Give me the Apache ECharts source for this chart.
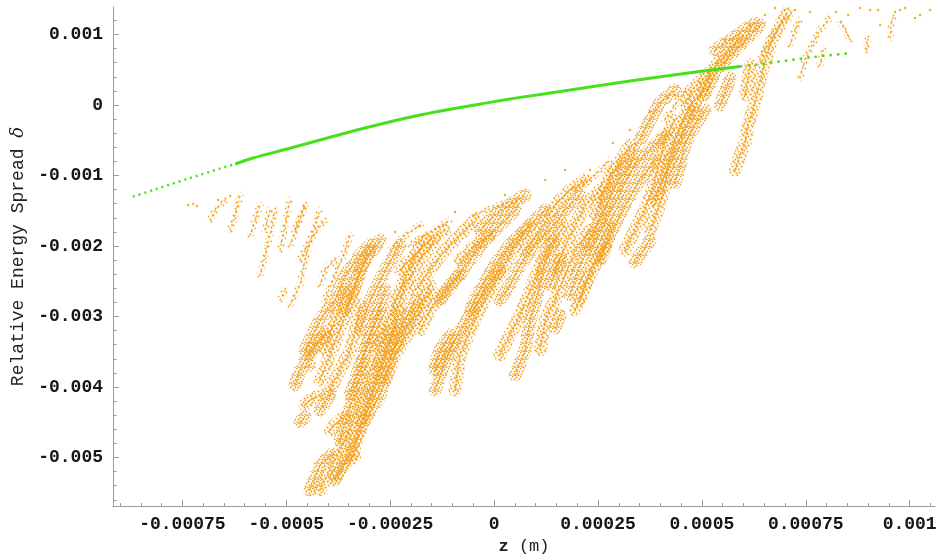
<!DOCTYPE html>
<html>
<head>
<meta charset="utf-8">
<script src="https://cdn.jsdelivr.net/npm/echarts@6/dist/echarts.min.js"></script>
<style>
  html, body { margin: 0; padding: 0; background: #ffffff; }
  #chart { width: 936px; height: 556px; }
</style>
</head>
<body>
<div id="chart"></div>
<script>
// All coordinates below are in units of 1e-6: z in micrometres, delta in ppm.
const UNIT = 1e-6;

// Reference particle (green): solid core and the sparser ends
const refTailLeft = [[-869,-1300],[-820,-1206],[-739,-1050],[-659,-901],[-623,-837]];
const refCore = [[-623,-837],[-580,-752],[-498,-624],[-419,-496],[-339,-369],[-257,-248],
  [-178,-142],[-99,-52],[-17,30],[63,108],[183,213],[262,284],[344,355],[423,418],[503,482],[592,546]];
const refTailRight = [[592,546],[633,574],[768,680],[857,735]];

// Bunch particles (orange), traced as filaments of [z, delta]
const filamentsSparse = [
  [[-683,-1631],[-671,-1489],[-647,-1347]],
  [[-635,-1773],[-623,-1560],[-611,-1277]],
  [[-587,-1844],[-575,-1631],[-563,-1418]],
  [[-551,-1773],[-539,-1489]],
  [[-563,-2411],[-551,-2128],[-539,-1844],[-527,-1489]],
  [[-515,-2057],[-503,-1702],[-491,-1347]],
  [[-515,-2766],[-503,-2624]],
  [[-491,-2837],[-467,-2553],[-455,-2199],[-431,-1702],[-419,-1489]],
  [[-467,-2199],[-443,-1915],[-407,-1631]],
  [[-419,-2553],[-407,-2340],[-383,-2199]],
  [[-407,-2766],[-383,-2411],[-358,-2057],[-346,-1844]],
  [[-479,-1773],[-455,-1418]],
  [[-491,-1986],[-467,-1631],[-455,-1418]],
  [[-250,-2057],[-214,-1844],[-178,-1702]],
  [[-202,-1986],[-154,-1802],[-106,-1631]],
  [[-46,-1560],[14,-1418],[63,-1347]],
  [[195,-1206],[243,-993],[279,-780]],
  [[411,-213],[435,0],[460,213]],
  [[736,383],[748,638],[765,851],[784,1064],[808,1234]],
  [[784,567],[792,780]],
  [[833,1177],[845,1064],[857,922]],
  [[897,780],[900,965]],
  [[953,950],[955,1135],[960,1248]],
  [[712,851],[724,1064],[736,1206]],
  [[640,638],[664,922],[688,1135],[712,1234]]
];

const filamentsDense = [
  // low-z lobe
  [[-455,-3617],[-431,-3404],[-407,-3262]],
  [[-443,-3546],[-419,-3333],[-395,-3191]],
  [[-479,-3972],[-467,-3759],[-443,-3688]],
  [[-455,-4255],[-443,-4184],[-419,-4113]],
  [[-467,-4496],[-455,-4425]],
  [[-395,-4610],[-371,-4468],[-358,-4425]],
  [[-443,-5461],[-431,-5291],[-419,-5106],[-395,-4965]],
  [[-419,-5461],[-395,-5177],[-371,-4894],[-346,-4610],[-322,-4184],[-298,-3759],[-262,-3191]],
  [[-383,-5319],[-358,-5035],[-334,-4752],[-310,-4326],[-286,-3901],[-262,-3475],[-238,-3121]],
  [[-383,-5291],[-358,-5064],[-334,-4965]],
  [[-371,-4752],[-346,-4255],[-322,-3830],[-310,-3475],[-286,-3050],[-262,-2624]],
  [[-346,-5035],[-322,-4610],[-298,-4184],[-274,-3759],[-250,-3333],[-226,-2908]],
  [[-310,-4468],[-274,-4113],[-250,-3617],[-226,-3191],[-190,-2766]],
  [[-395,-4043],[-371,-3759],[-346,-3475],[-334,-3191],[-322,-2837]],
  [[-419,-4326],[-395,-4113]],
  [[-419,-3901],[-395,-3546],[-371,-3191],[-346,-2766],[-322,-2340],[-298,-2057]],
  [[-455,-3475],[-419,-3050],[-383,-2766],[-358,-2411],[-322,-2128],[-298,-1986]],
  [[-262,-3901],[-238,-3546],[-202,-3191],[-178,-2908],[-154,-2624]],
  [[-142,-4043],[-118,-3645],[-94,-3333]],
  [[-238,-2979],[-214,-2553],[-178,-2199],[-142,-1915]],
  [[-322,-3191],[-298,-2766],[-262,-2340],[-226,-1986]],
  [[-286,-3404],[-250,-2979],[-226,-2624],[-202,-2269],[-166,-1915]],
  [[-358,-2908],[-334,-2553],[-310,-2199],[-274,-1915]],
  [[-407,-3475],[-383,-3050],[-358,-2624]],
  [[-346,-4113],[-322,-3688],[-298,-3262],[-274,-2908]],
  // centre
  [[-250,-3546],[-214,-3191],[-178,-2837],[-154,-2553]],
  [[-142,-3759],[-94,-3333],[-58,-2979],[-22,-2624],[14,-2340]],
  [[-94,-4043],[-82,-3546],[-46,-3050],[-10,-2624],[26,-2269],[51,-1986],[87,-1702]],
  [[-142,-3688],[-130,-3475],[-106,-3262]],
  [[14,-3546],[38,-3262],[63,-2979],[87,-2624],[111,-2269],[135,-1986],[171,-1702]],
  [[51,-3830],[75,-3475],[87,-3050],[111,-2553],[123,-2199],[147,-1915]],
  [[111,-3475],[123,-3050],[147,-2766],[171,-2411],[195,-2057],[231,-1773]],
  [[147,-3163],[159,-2979]],
  [[195,-2908],[219,-2553],[243,-2269],[267,-1986]],
  [[-130,-2766],[-94,-2482],[-58,-2199],[-22,-1915],[14,-1702],[51,-1489]],
  [[-190,-2624],[-154,-2340],[-118,-2057],[-82,-1844],[-46,-1631]],
  [[-58,-2908],[-34,-2624],[2,-2269],[38,-1986],[75,-1773],[123,-1489]],
  [[-226,-2340],[-190,-2128],[-154,-1915],[-118,-1773]],
  [[14,-2766],[38,-2553],[63,-2269],[99,-1986],[135,-1773],[171,-1489],[207,-1277]],
  [[75,-2057],[111,-1773],[147,-1418],[183,-1206],[219,-1064]],
  [[-34,-1773],[2,-1560],[38,-1418],[75,-1277]],
  [[147,-2340],[171,-1986],[195,-1702],[219,-1418],[255,-1206]],
  [[231,-2057],[255,-1773],[279,-1489],[303,-1277]],
  [[-82,-2199],[-46,-1986],[-10,-1844]],
  [[135,-2553],[159,-2199]],
  [[-178,-3191],[-154,-2908],[-118,-2624],[-82,-2411]],
  // high-z arm
  [[183,-2695],[207,-2269],[231,-1915],[267,-1489],[291,-1135],[327,-851],[339,-638]],
  [[207,-2766],[231,-2340],[267,-1986],[279,-1702]],
  [[255,-2199],[279,-1844],[315,-1418],[351,-1064],[387,-780]],
  [[315,-2057],[339,-1773],[363,-1489],[387,-1064],[411,-496],[435,-213]],
  [[339,-2227],[363,-2028],[375,-1915]],
  [[375,-1773],[399,-1418],[411,-1135],[423,-709],[448,-284],[472,0],[508,241]],
  [[435,-1106],[448,-851],[460,-539],[484,-284],[508,-71]],
  [[580,-922],[592,-709],[604,-539],[611,-284],[623,-71],[635,213],[647,496],[664,851],[688,1135],[705,1305]],
  [[544,0],[556,184],[568,383]],
  [[460,28],[476,213],[508,397]],
  [[303,-1206],[339,-851],[375,-638],[411,-426]],
  [[255,-1347],[279,-993],[315,-780]],
  [[387,-1347],[411,-993],[435,-638],[460,-355],[484,-71]],
  [[472,-142],[496,142],[520,468],[556,709],[592,922]],
  [[508,142],[532,468],[568,709],[604,922],[640,1135]],
  [[604,142],[611,355],[616,567]],
  [[532,780],[592,1021],[628,1163]],
  [[243,-1560],[267,-1206],[298,-851],[327,-567]],
  [[351,-496],[375,-213],[399,28],[435,213]]
];

// Isolated particles around the edges of the bunch
const looseParticles = [
  [-736,-1418],[-724,-1404],[-715,-1433],[-664,-1347],[-635,-1291],
  [-238,-1801],[-178,-1716],[-94,-1518],[26,-1277],[123,-1064],[171,-922],
  [190,-1163],[231,-922],[286,-539],[327,-355],[375,-99],[419,99],[435,142],
  [556,922],[616,1135],[652,1277],[676,1376],[700,1347],[724,1347],[760,1319],
  [823,1319],[852,1277],[881,1376],[905,1347],[924,1347],[929,1135],[965,1319],
  [977,1347],[989,1376],[1013,1234],[1025,1277],[1049,1347]
];

// Axis ticks and labels
const xMajorTicks = [-0.00075, -0.0005, -0.00025, 0, 0.00025, 0.0005, 0.00075, 0.001];
const xTickLabels = ['-0.00075', '-0.0005', '-0.00025', '0', '0.00025', '0.0005', '0.00075', '0.001'];
const yMajorTicks = [-0.005, -0.004, -0.003, -0.002, -0.001, 0, 0.001];
const yTickLabels = ['-0.005', '-0.004', '-0.003', '-0.002', '-0.001', '0', '0.001'];
const X_RANGE = [-0.000917, 0.001061];
const Y_RANGE = [-0.005688, 0.00139];

function minorTicks(step, kFrom, kTo) {
  const out = [];
  for (let k = kFrom; k <= kTo; k++) out.push(Number((k * step).toFixed(7)));
  return out;
}
const xMinorTicks = minorTicks(0.00005, -18, 21);
const yMinorTicks = minorTicks(0.0002, -28, 6);

function labelFor(v, ticks, labels) {
  const i = ticks.findIndex(t => Math.abs(t - v) < 1e-10);
  return i >= 0 ? labels[i] : '';
}
const scalePts = pts => pts.map(p => [p[0] * UNIT, p[1] * UNIT]);

const ORANGE = '#f5a01a';
const GREEN = '#47e01c';
const AXIS_GREY = '#9c9c9c';
const MONO = '"Liberation Mono", "DejaVu Sans Mono", monospace';

// Speckle textures used to paint the filaments as fields of small dots
function speckle(size, dots, color, r) {
  const c = document.createElement('canvas');
  c.width = size; c.height = size;
  const g = c.getContext('2d');
  g.fillStyle = color;
  dots.forEach(([x, y]) => { g.beginPath(); g.arc(x + 0.5, y + 0.5, r, 0, Math.PI * 2); g.fill(); });
  return { image: c, repeat: 'repeat' };
}
const speckleA = speckle(8, [[0,0],[4,1],[7,3],[2,3],[5,5],[1,6],[6,7],[3,7]], ORANGE, 1.05);
const speckleB = speckle(9, [[1,1],[5,0],[8,4],[3,4],[6,6],[0,7],[4,8],[7,2]], ORANGE, 1.05);
const speckleC = speckle(10, [[1,1],[6,2],[3,5],[8,6],[5,8]], ORANGE, 0.95);

const tickLabelStyle = {
  fontFamily: MONO, fontSize: 18, fontWeight: 'bold', color: '#161616'
};

function filamentSeries(list, style) {
  return {
    type: 'lines', coordinateSystem: 'cartesian2d', polyline: true, silent: true,
    xAxisIndex: 0, yAxisIndex: 0,
    data: list.map(f => ({ coords: scalePts(f) })),
    lineStyle: Object.assign({ cap: 'round', join: 'round' }, style)
  };
}
const denseEven = filamentsDense.filter((f, i) => i % 2 === 0);
const denseOdd = filamentsDense.filter((f, i) => i % 2 === 1);

const chart = echarts.init(document.getElementById('chart'), null, { renderer: 'canvas' });

chart.setOption({
  animation: false,
  backgroundColor: '#ffffff',
  grid: { left: 113, top: 7, right: 1, bottom: 50, outerBoundsMode: 'none' },
  xAxis: [
    {
      type: 'value', min: X_RANGE[0], max: X_RANGE[1], position: 'bottom',
      name: '{b|z} (m)', nameLocation: 'middle', nameGap: 31,
      nameTextStyle: {
        fontFamily: MONO, fontSize: 17, color: '#222',
        rich: { b: { fontFamily: MONO, fontSize: 17, fontWeight: 'bold', color: '#222' } }
      },
      axisLine: { show: true, onZero: false, lineStyle: { color: AXIS_GREY, width: 1 } },
      axisTick: { show: true, inside: true, length: 6, customValues: xMajorTicks,
                  lineStyle: { color: AXIS_GREY, width: 1 } },
      axisLabel: { show: true, customValues: xMajorTicks, margin: 9,
                   formatter: v => labelFor(v, xMajorTicks, xTickLabels), ...tickLabelStyle },
      splitLine: { show: false }
    },
    {
      type: 'value', min: X_RANGE[0], max: X_RANGE[1], position: 'bottom',
      axisLine: { show: false, onZero: false },
      axisTick: { show: true, inside: true, length: 3, customValues: xMinorTicks,
                  lineStyle: { color: AXIS_GREY, width: 1 } },
      axisLabel: { show: false },
      splitLine: { show: false }
    }
  ],
  yAxis: [
    {
      type: 'value', min: Y_RANGE[0], max: Y_RANGE[1], position: 'left',
      name: 'Relative Energy Spread {i|δ}', nameLocation: 'middle', nameGap: 79,
      nameTextStyle: {
        fontFamily: MONO, fontSize: 18, color: '#222',
        rich: { i: { fontFamily: '"DejaVu Serif", "Liberation Serif", serif', fontStyle: 'italic',
                     fontSize: 18, color: '#222' } }
      },
      axisLine: { show: true, onZero: false, lineStyle: { color: AXIS_GREY, width: 1 } },
      axisTick: { show: true, inside: true, length: 6, customValues: yMajorTicks,
                  lineStyle: { color: AXIS_GREY, width: 1 } },
      axisLabel: { show: true, customValues: yMajorTicks, margin: 10,
                   formatter: v => labelFor(v, yMajorTicks, yTickLabels), ...tickLabelStyle },
      splitLine: { show: false }
    },
    {
      type: 'value', min: Y_RANGE[0], max: Y_RANGE[1], position: 'left',
      axisLine: { show: false, onZero: false },
      axisTick: { show: true, inside: true, length: 3.5, customValues: yMinorTicks,
                  lineStyle: { color: AXIS_GREY, width: 1 } },
      axisLabel: { show: false },
      splitLine: { show: false }
    }
  ],
  series: [
    filamentSeries(denseEven, { color: speckleA, width: 13, opacity: 1 }),
    filamentSeries(denseOdd, { color: speckleB, width: 13, opacity: 1 }),
    filamentSeries(filamentsDense, { color: ORANGE, width: 1.9, opacity: 0.85, type: [1.2, 3] }),
    filamentSeries(filamentsSparse, { color: speckleC, width: 7, opacity: 1 }),
    filamentSeries(filamentsSparse, { color: ORANGE, width: 1.6, opacity: 0.8, type: [1.2, 3.6] }),
    {
      type: 'scatter', xAxisIndex: 0, yAxisIndex: 0, silent: true,
      data: scalePts(looseParticles), symbol: 'circle', symbolSize: 2.4,
      itemStyle: { color: ORANGE, opacity: 0.9 }
    },
    {
      type: 'line', xAxisIndex: 0, yAxisIndex: 0, silent: true, showSymbol: false, smooth: 0.3,
      data: scalePts(refCore),
      lineStyle: { color: GREEN, width: 3 }
    },
    {
      type: 'line', xAxisIndex: 0, yAxisIndex: 0, silent: true, showSymbol: false, smooth: 0.3,
      data: scalePts(refTailLeft),
      lineStyle: { color: GREEN, width: 2.4, type: [2, 4] }
    },
    {
      type: 'line', xAxisIndex: 0, yAxisIndex: 0, silent: true, showSymbol: false, smooth: 0.3,
      data: scalePts(refTailRight),
      lineStyle: { color: GREEN, width: 2.4, type: [2.5, 5] }
    }
  ]
});
</script>
</body>
</html>
